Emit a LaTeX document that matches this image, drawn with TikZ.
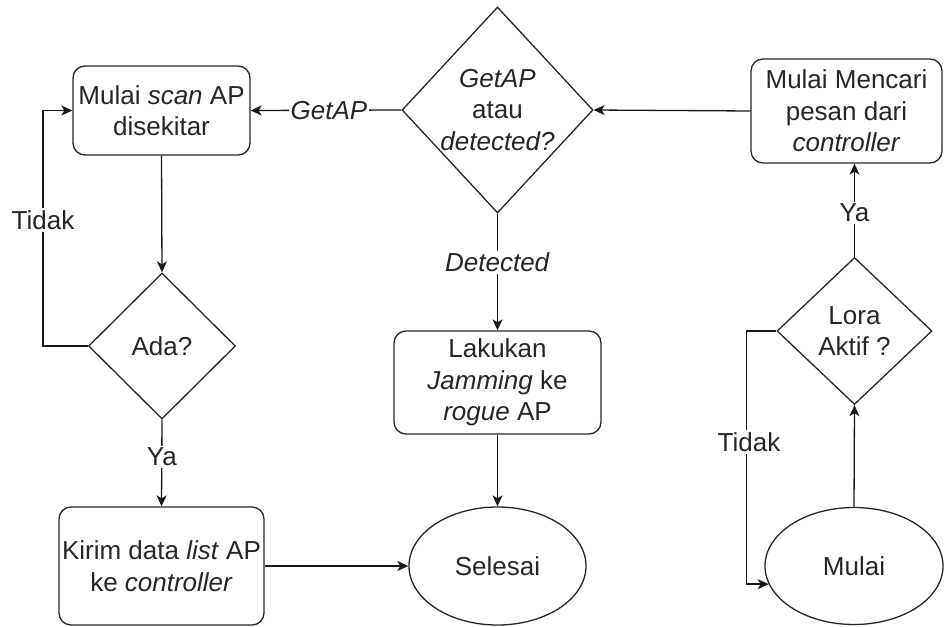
\documentclass[tikz,border=0pt]{standalone}
\usepackage{fontspec}
\setmainfont{Liberation Sans}
\usetikzlibrary{shapes.geometric,arrows.meta}
\begin{document}
\begin{tikzpicture}[x=1pt,y=-1pt,
  font=\fontsize{26}{31.5}\selectfont,
  every node/.style={text=black!85},
  proc/.style={draw=black!85, rounded corners=12pt, line width=1.3pt, align=center, inner sep=0pt},
  dec/.style={draw=black!85, diamond, line width=1.3pt, inner sep=0pt},
  term/.style={draw=black!85, ellipse, line width=1.3pt, inner sep=0pt},
  arr/.style={draw=black!90, line width=1.3pt, -{Stealth[length=11pt,width=10pt,inset=3pt]}},
  lbl/.style={fill=white, inner sep=2pt}]
\useasboundingbox (0,0) rectangle (944,626);

\node[proc, minimum width=177pt, minimum height=89pt] (scan) at (161.5,110.5) {Mulai \textit{scan} AP\\disekitar};
\node[dec, minimum width=191pt, minimum height=206pt,
  label={[align=center]center:{\textit{GetAP}\\atau\\\textit{detected?}}}] (q) at (497.5,110) {};
\node[proc, minimum width=191pt, minimum height=104pt] (cari) at (846.5,111) {Mulai Mencari\\pesan dari\\\textit{controller}};
\node[dec, minimum width=147pt, minimum height=146pt,
  label={[align=center]center:{Ada?}}] (ada) at (162,346) {};
\node[dec, minimum width=155pt, minimum height=147pt,
  label={[align=center]center:{Lora\\Aktif ?}}] (lora) at (854.5,331) {};
\node[proc, minimum width=207pt, minimum height=103pt] (jam) at (497.5,382.5) {Lakukan\\\textit{Jamming} ke\\\textit{rogue} AP};
\node[proc, minimum width=205pt, minimum height=118pt] (kirim) at (161.5,566) {Kirim data \textit{list} AP\\ke \textit{controller}};
\node[term, minimum width=177pt, minimum height=118pt] (selesai) at (497.5,566) {Selesai};
\node[term, minimum width=178pt, minimum height=117pt] (mulai) at (854,566) {Mulai};

% connectors
\draw[arr] (scan.south) -- (ada.north);
\draw[arr] (ada.west) -- ++(-45,0) coordinate (tl) |- (scan.west);
\node[lbl] (tidak1) at (43,220) {Tidak};
\draw[arr] (ada.south) -- (kirim.north) node[pos=0.43, lbl] (ya1) {Ya};
\draw[arr] (kirim.east) -- (selesai.west);
\draw[arr] (q.west) -- (scan.east) node[pos=0.48, lbl] (getap) {\textit{GetAP}};
\draw[arr] (cari.west) -- (q.east);
\draw[arr] (q.south) -- (jam.north) node[pos=0.42, lbl] (det) {\textit{Detected}};
\draw[arr] (jam.south) -- (selesai.north);
\draw[arr] (mulai.north) -- (lora.south);
\draw[arr] (lora.north) -- (lora.north |- cari.south) node[pos=0.47, lbl] (ya2) {Ya};
\draw[arr] (lora.west) -- ++(-30,0) coordinate (tr) |- (mulai.192);
\node[lbl] (tidak2) at (749,442) {Tidak};
\end{tikzpicture}
\end{document}
